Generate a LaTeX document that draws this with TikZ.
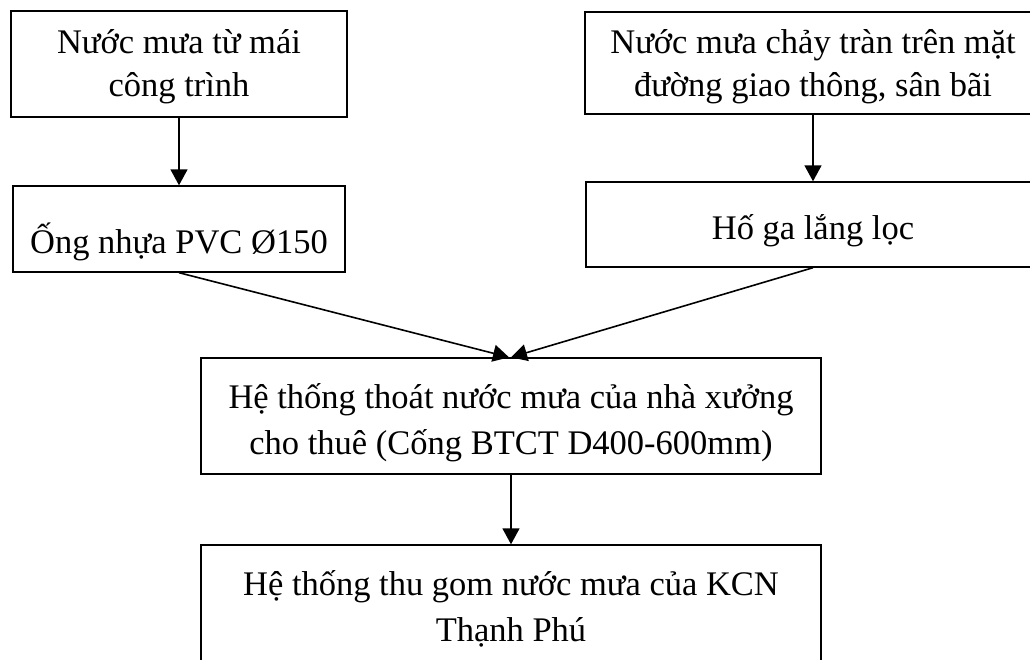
\documentclass[tikz,border=0pt]{standalone}
\usepackage{fontspec}
\setmainfont{Liberation Serif}
\usetikzlibrary{arrows.meta}
\tikzset{
  box/.style={draw, line width=1.4pt, align=flush center, inner sep=0pt},
  topfont/.style={font=\fontsize{34.5}{43}\selectfont},
  lowfont/.style={font=\fontsize{34.5}{46}\selectfont},
  arr/.style={line width=1.6pt, -{Triangle[length=16pt,width=17pt]}}
}
\begin{document}
\begin{tikzpicture}[x=1pt,y=-1pt]
\useasboundingbox (0,0) rectangle (1030,659);
\clip (0,0) rectangle (1030,659);
\node[box, topfont, text width=330pt, minimum width=336pt, minimum height=106pt, text height=20pt, text depth=42pt] (b1) at (179,64) {Nước mưa từ mái\\công trình};
\node[box, topfont, text width=326pt, minimum width=332pt, minimum height=86pt, text height=48pt, text depth=0pt] (b2) at (179,229) {Ống nhựa PVC Ø150};
\node[box, topfont, text width=450pt, minimum width=456pt, minimum height=102pt, text height=20pt, text depth=40pt] (b3) at (813,63) {Nước mưa chảy tràn trên mặt\\đường giao thông, sân bãi};
\node[box, topfont, text width=448pt, minimum width=454pt, minimum height=85pt, text height=34pt, text depth=5pt] (b4) at (813,224.5) {Hố ga lắng lọc};
\node[box, lowfont, text width=614pt, minimum width=620pt, minimum height=116pt, text height=26pt, text depth=42pt] (b5) at (511,416) {Hệ thống thoát nước mưa của nhà xưởng\\cho thuê (Cống BTCT D400-600mm)};
\node[box, lowfont, text width=614pt, minimum width=620pt, minimum height=116pt, text height=26pt, text depth=42pt] (b6) at (511,603) {Hệ thống thu gom nước mưa của KCN\\Thạnh Phú};
\draw[arr] (b1) -- (b2);
\draw[arr] (b3) -- (b4);
\draw[arr] (b2.south) -- ([xshift=-2pt]b5.north);
\draw[arr] (b4.south) -- ([xshift=0pt]b5.north);
\draw[arr] (b5) -- (b6);
\end{tikzpicture}
\end{document}
